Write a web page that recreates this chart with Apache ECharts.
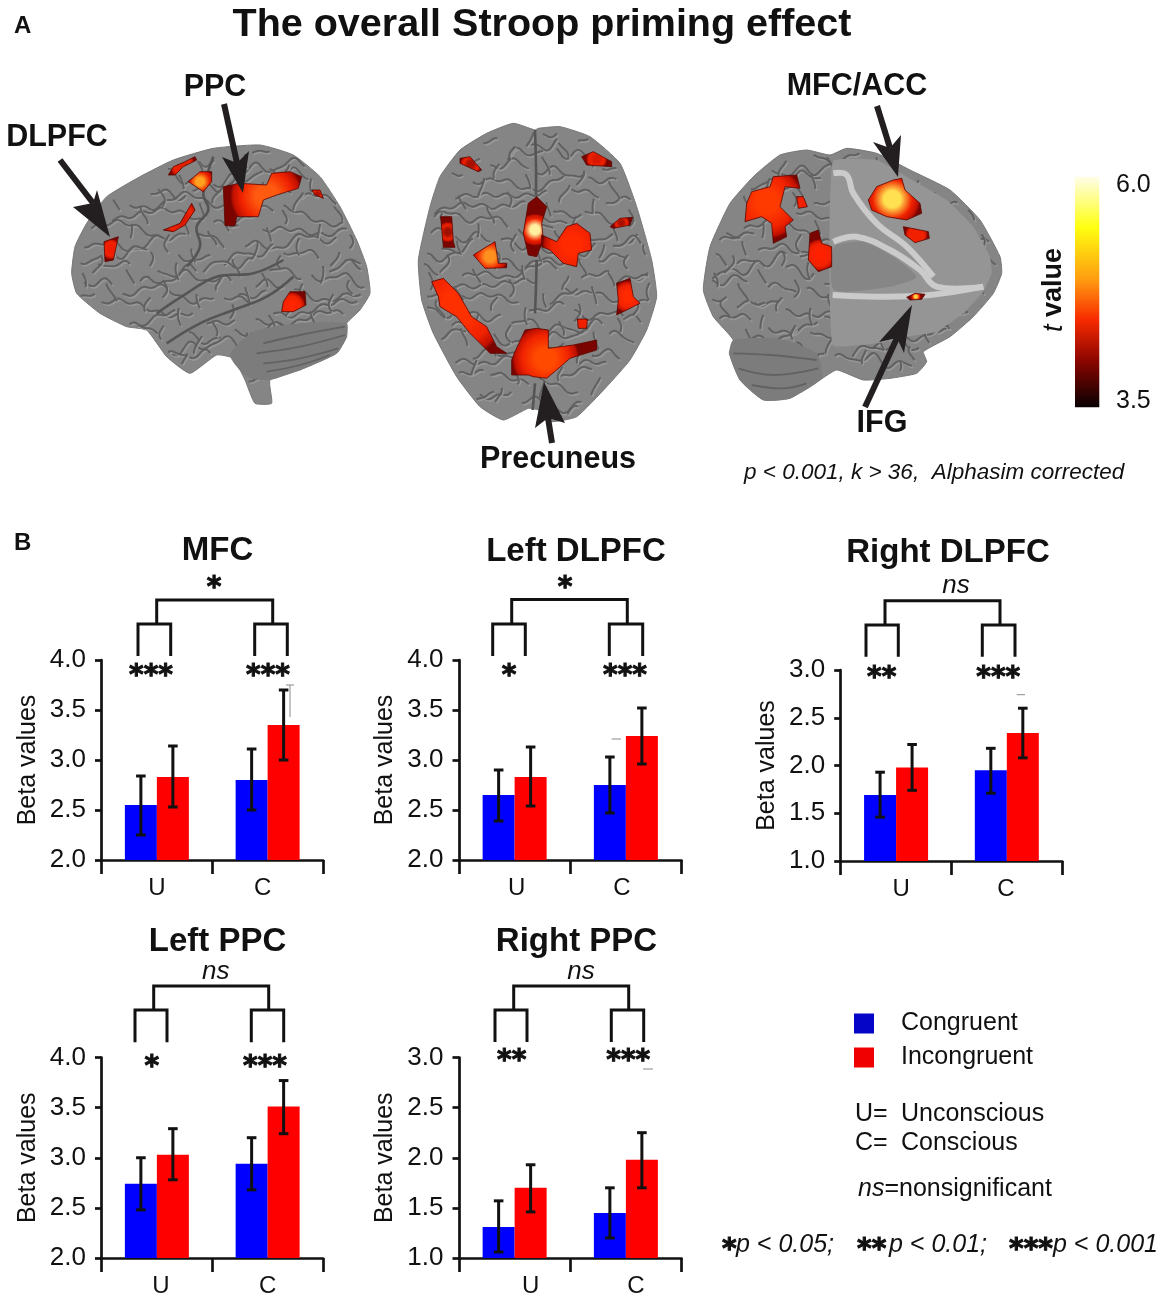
<!DOCTYPE html>
<html>
<head>
<meta charset="utf-8">
<style>
  html, body { margin: 0; padding: 0; background: #fff; }
  #chart { width: 1165px; height: 1300px; }
</style>
<script src="https://cdn.jsdelivr.net/npm/echarts@6/dist/echarts.min.js"></script>
</head>
<body>
<div id="chart"></div>
<script>
// Panel B data
const conditions = ["U", "C"];
const regions = ["MFC", "Left DLPFC", "Right DLPFC", "Left PPC", "Right PPC"];

const mfcCongruent = [2.55, 2.80];
const mfcCongruentLow = [2.25, 2.50];
const mfcCongruentHigh = [2.84, 3.11];
const mfcIncongruent = [2.83, 3.35];
const mfcIncongruentLow = [2.53, 3.00];
const mfcIncongruentHigh = [3.14, 3.70];

const leftDlpfcCongruent = [2.65, 2.75];
const leftDlpfcCongruentLow = [2.39, 2.47];
const leftDlpfcCongruentHigh = [2.90, 3.03];
const leftDlpfcIncongruent = [2.83, 3.24];
const leftDlpfcIncongruentLow = [2.54, 2.96];
const leftDlpfcIncongruentHigh = [3.13, 3.52];

const rightDlpfcCongruent = [1.69, 1.95];
const rightDlpfcCongruentLow = [1.46, 1.71];
const rightDlpfcCongruentHigh = [1.93, 2.18];
const rightDlpfcIncongruent = [1.98, 2.34];
const rightDlpfcIncongruentLow = [1.74, 2.08];
const rightDlpfcIncongruentHigh = [2.22, 2.60];

const leftPpcCongruent = [2.74, 2.94];
const leftPpcCongruentLow = [2.48, 2.68];
const leftPpcCongruentHigh = [3.00, 3.20];
const leftPpcIncongruent = [3.03, 3.51];
const leftPpcIncongruentLow = [2.78, 3.24];
const leftPpcIncongruentHigh = [3.29, 3.77];

const rightPpcCongruent = [1.31, 1.45];
const rightPpcCongruentLow = [1.06, 1.20];
const rightPpcCongruentHigh = [1.57, 1.70];
const rightPpcIncongruent = [1.70, 1.98];
const rightPpcIncongruentLow = [1.46, 1.70];
const rightPpcIncongruentHigh = [1.93, 2.25];

const yMins = [2, 2, 1, 2, 1];
const yMaxs = [4, 4, 3, 4, 3];

const panelValues = [
  [mfcCongruent, mfcCongruentLow, mfcCongruentHigh, mfcIncongruent, mfcIncongruentLow, mfcIncongruentHigh],
  [leftDlpfcCongruent, leftDlpfcCongruentLow, leftDlpfcCongruentHigh, leftDlpfcIncongruent, leftDlpfcIncongruentLow, leftDlpfcIncongruentHigh],
  [rightDlpfcCongruent, rightDlpfcCongruentLow, rightDlpfcCongruentHigh, rightDlpfcIncongruent, rightDlpfcIncongruentLow, rightDlpfcIncongruentHigh],
  [leftPpcCongruent, leftPpcCongruentLow, leftPpcCongruentHigh, leftPpcIncongruent, leftPpcIncongruentLow, leftPpcIncongruentHigh],
  [rightPpcCongruent, rightPpcCongruentLow, rightPpcCongruentHigh, rightPpcIncongruent, rightPpcIncongruentLow, rightPpcIncongruentHigh],
];

// Layout of the five panels, in page pixels
const FONT = '"Liberation Sans", Arial, sans-serif';
const BAR_W = 32;
const layout = [
  { left: 101.5, top: 660, width: 221.5, height: 200, titleX: 217.5, titleY: 548, labelDx: [0, -5] },
  { left: 459, top: 660, width: 222.5, height: 200, titleX: 576, titleY: 549, labelDx: [2, -4] },
  { left: 840.7, top: 670, width: 221.5, height: 191, titleX: 948, titleY: 550, labelDx: [5, -1] },
  { left: 101.5, top: 1057.5, width: 221.5, height: 200.5, titleX: 217.5, titleY: 939, labelDx: [4, 0] },
  { left: 459, top: 1057.5, width: 222.5, height: 200.5, titleX: 576.5, titleY: 939, labelDx: [16, 10] },
];

// Significance brackets: top y, drop y, leg end y, top x0/x1, U legs, C legs
const brackets = [
  [600, 624, 656, 156.7, 272.7, 138, 170.7, 254.7, 287.3],
  [599.5, 624, 656, 511.7, 627.3, 492.7, 525.3, 609.3, 642.7],
  [600.7, 625, 656.7, 885, 1000, 866, 898.3, 982.3, 1015],
  [986, 1010, 1042.3, 153.7, 268.7, 135, 167, 251.3, 283.7],
  [986, 1010, 1042, 513.7, 628.7, 495, 527, 611.3, 643.7],
];
// [text, x, y]
const sigMarks = [
  ["*", 214, 583], ["***", 151, 671], ["***", 268, 671],
  ["*", 565, 583], ["*", 509, 671], ["***", 625, 671],
  ["ns", 956, 586], ["**", 881.7, 673], ["***", 998.3, 673],
  ["ns", 215.7, 971.7], ["*", 151.7, 1062], ["***", 265, 1062],
  ["ns", 581, 971.7], ["**", 511.7, 1056], ["***", 628.3, 1056],
];
// thin grey leftovers next to some error bars in the original figure
const greyMarks = [
  [[286, 685], [294, 685]], [[290, 685], [290, 717]],
  [[611.7, 739], [621, 739]],
  [[1016.7, 694.7], [1025, 694.7]],
  [[643, 1069], [653, 1069]],
];

// ---- panel A illustration outlines (3x crop coordinates, scaled in brainPts) ----
const brain1Origin = [0, 60];
const brain2Origin = [400, 100];
const brain3Origin = [690, 60];

const brain1Outline = [[215,640],[225,560],[260,490],[320,410],[420,350],[520,300],[640,265],[780,255],[880,285],[960,350],[1020,440],[1070,540],[1100,620],[1110,700],[1080,750],[1040,790],[1040,830],[1010,880],[900,930],[810,960],[815,1030],[765,1030],[735,960],[700,895],[650,885],[570,940],[500,890],[440,810],[380,800],[300,760],[230,700]];
const brain1Cerebellum = [[690,885],[760,815],[900,790],[1040,790],[1040,830],[1010,880],[900,930],[810,960],[740,950]];
const brain1CerebellumLines = [
  [[790,850],[900,825],[1035,800]],
  [[770,880],[900,860],[1035,825]],
  [[790,910],[900,895],[1015,865]],
  [[800,935],[900,915],[990,885]],
];
const brain1Sulci = [
  [[640,290],[610,400],[625,450],[590,500],[600,560],[560,620]],
  [[470,760],[560,700],[650,650],[760,640],[850,600]],
  [[500,850],[600,790],[700,750],[800,710],[880,650]],
];
const brain1Blobs = [
  [[[670,380],[720,370],[800,375],[815,340],[870,335],[905,350],[895,385],[830,405],[790,420],[775,470],[710,470],[705,497],[675,497]], 0.55, 0.45, "#ff5a10"],
  [[[565,365],[600,335],[635,335],[635,365],[610,395],[580,375]], 0.5, 0.5, "#ffa020"],
  [[[505,345],[520,320],[555,305],[585,290],[590,300],[550,320],[525,345]], 0.5, 0.5, "#e02000"],
  [[[490,510],[540,490],[575,430],[585,450],[555,495],[520,515]], 0.5, 0.5, "#d81800"],
  [[[312,545],[355,530],[340,600],[315,605]], 0.5, 0.5, "#f01c00"],
  [[[850,725],[870,695],[915,695],[918,735],[880,755],[845,755]], 0.4, 0.7, "#ff2500"],
  [[[935,390],[960,390],[970,415],[945,405]], 0.5, 0.5, "#b01000"],
];

const brain2Outline = [[405,90],[340,70],[260,100],[180,150],[120,230],[90,320],[55,480],[65,600],[100,700],[170,830],[240,920],[310,960],[385,925],[415,930],[450,965],[530,950],[620,860],[690,780],[740,690],[770,590],[755,480],[710,320],[660,190],[570,110],[480,80],[415,85]];
const brain2Sulci = [
  [[405,90],[408,200],[408,285]], [[410,480],[408,560],[405,640]], [[405,850],[398,930]],
];
const brain2Blobs = [
  [[[370,400],[385,310],[410,290],[440,320],[425,370],[430,420],[410,470],[385,465]], 0.5, 0.55, "#fff0a0"],
  [[[425,405],[470,425],[500,380],[530,370],[570,400],[575,450],[535,460],[530,500],[490,490],[450,450],[425,440]], 0.6, 0.5, "#ff2a00"],
  [[[220,465],[260,440],[285,425],[295,490],[320,490],[320,503],[255,505]], 0.5, 0.55, "#ff9020"],
  [[[95,545],[130,535],[175,580],[215,650],[260,680],[290,740],[320,760],[270,760],[210,700],[170,650],[120,620],[115,590]], 0.35, 0.4, "#ff3000"],
  [[[345,755],[375,690],[410,685],[445,690],[445,745],[520,735],[590,720],[590,750],[510,775],[470,810],[440,835],[400,830],[385,825],[335,825],[335,780]], 0.4, 0.6, "#ff4a00"],
  [[[650,550],[690,535],[700,590],[720,610],[690,625],[650,645],[655,600]], 0.5, 0.5, "#ff2a00"],
  [[[545,170],[580,155],[635,185],[635,200],[560,195]], 0.5, 0.5, "#d81800"],
  [[[180,175],[210,170],[245,210],[235,215],[180,190]], 0.5, 0.5, "#a81000"],
  [[[122,350],[155,350],[160,425],[165,442],[130,442]], 0.5, 0.5, "#a01000"],
  [[[630,380],[660,355],[698,352],[690,375],[640,385]], 0.5, 0.5, "#a81000"],
  [[[532,657],[562,657],[560,685],[535,685]], 0.5, 0.5, "#f02000"],
];

const brain3Outline = [[40,690],[60,560],[120,430],[190,350],[270,285],[350,270],[420,285],[470,265],[560,280],[660,330],[780,390],[870,480],[930,590],[935,640],[910,700],[850,770],[780,830],[700,875],[710,905],[680,940],[600,955],[520,960],[440,930],[390,960],[300,1015],[220,1020],[150,960],[118,880],[130,840],[70,770]];
const brain3Cerebellum = [[118,880],[130,840],[260,835],[380,880],[395,955],[300,1015],[220,1020],[150,960]];
const brain3CerebellumLines = [
  [[130,880],[240,885],[380,900]],
  [[145,925],[250,945],[385,925]],
  [[185,975],[280,985],[350,970]],
];
const brain3Slice = [[428,305],[560,300],[650,350],[770,420],[850,500],[900,590],[905,640],[880,695],[820,760],[740,815],[650,830],[560,850],[428,855]];
const brain3Deep = [[432,560],[520,545],[610,590],[680,650],[600,680],[432,690]];
const brain3White = [
  [[430,545],[500,530],[600,570],[690,630],[740,680],[880,680]],
  [[428,705],[560,710],[720,705],[880,680]],
  [[430,340],[470,345],[490,400],[560,490],[650,560],[730,650]],
];
const brain3Blobs = [
  [[[535,420],[560,380],[610,360],[635,355],[645,390],[690,430],[695,460],[650,480],[590,470],[545,450]], 0.45, 0.5, "#ffe050"],
  [[[640,500],[665,505],[715,515],[718,535],[675,548],[645,525]], 0.5, 0.5, "#f02000"],
  [[[170,430],[185,395],[240,380],[250,350],[320,345],[330,385],[285,380],[270,440],[310,480],[285,500],[290,530],[250,550],[245,490],[215,470],[165,485]], 0.4, 0.4, "#ff3a00"],
  [[[320,410],[340,410],[352,440],[325,445]], 0.5, 0.5, "#f02000"],
  [[[360,520],[385,510],[395,550],[425,560],[425,620],[385,635],[355,600]], 0.5, 0.6, "#ff2000"],
  [[[650,712],[675,700],[705,703],[695,718],[660,720]], 0.5, 0.5, "#ffd040"],
];

// [shaft start, tip, barb, notch, barb]
const arrows = [
  [[60,160],[110,237],[73,207],[93,203],[97,190]],
  [[224,104],[243,193],[222,157],[237,163],[249,151]],
  [[877,106],[898,177],[873,142],[890,148],[901,135]],
  [[865,407],[912,305],[879,342],[897,338],[904,353]],
  [[552,443],[544,382],[535,428],[548,418],[565,423]],
];

function brainPts(origin, pts) {
  return pts.map(p => [origin[0] + p[0] / 3, origin[1] + p[1] / 3]);
}

function insidePoly(x, y, poly) {
  let inside = false;
  for (let i = 0, j = poly.length - 1; i < poly.length; j = i++) {
    const [xi, yi] = poly[i], [xj, yj] = poly[j];
    if ((yi > y) !== (yj > y) && x < (xj - xi) * (y - yi) / (yj - yi) + xi) inside = !inside;
  }
  return inside;
}

// cortex folds: only decoration of the brain pictures, uneven wavy strokes inside the outline
function foldElements(origin, outline) {
  const poly = brainPts(origin, outline);
  const xs = poly.map(p => p[0]), ys = poly.map(p => p[1]);
  const x0 = Math.min(...xs), x1 = Math.max(...xs), y0 = Math.min(...ys), y1 = Math.max(...ys);
  const els = [];
  const flush = seg => {
    if (seg.length < 4) return;
    els.push({
      type: "polyline", z: 2, silent: true,
      shape: { points: seg.map(p => [p[0] + 1.4, p[1] + 1.8]), smooth: 0.5 },
      style: { fill: null, stroke: "#989898", lineWidth: 1.6 },
    });
    els.push({
      type: "polyline", z: 2, silent: true,
      shape: { points: seg, smooth: 0.5 },
      style: { fill: null, stroke: "#606060", lineWidth: 1.9 },
    });
  };
  const ok = (x, y) => insidePoly(x, y, poly) && insidePoly(x + 4, y + 3, poly) && insidePoly(x - 4, y - 3, poly);
  // mostly horizontal strokes
  let row = 0;
  for (let yy = y0 + 6; yy < y1; yy += 13, row++) {
    let seg = [];
    const freq = 0.13 + 0.07 * Math.sin(row * 0.9);
    for (let xx = x0 + 2; xx < x1; xx += 3.5) {
      const y = yy + 4.5 * Math.sin(xx * freq + row * 1.3) + 5 * Math.sin(xx * 0.047 + row * 2.1) + 2 * Math.sin(xx * 0.31 + row);
      if (Math.sin(xx * 0.11 + row * 1.9) + 0.6 * Math.sin(xx * 0.037 + row) < 0.6 && ok(xx, y)) {
        seg.push([xx, y]);
      } else {
        flush(seg);
        seg = [];
      }
    }
    flush(seg);
  }
  // shorter, mostly vertical strokes crossing them
  let col = 0;
  for (let xx = x0 + 8; xx < x1; xx += 17, col++) {
    let seg = [];
    const freq = 0.16 + 0.06 * Math.sin(col * 1.7);
    for (let yy = y0 + 2; yy < y1; yy += 3.5) {
      const x = xx + 4 * Math.sin(yy * freq + col * 0.8) + 4 * Math.sin(yy * 0.053 + col * 1.4);
      if (Math.sin(yy * 0.14 + col * 2.3) > 0.25 && ok(x, yy)) {
        seg.push([x, yy]);
      } else {
        flush(seg);
        seg = [];
      }
    }
    flush(seg);
  }
  return els;
}

function brainElements(origin, outline, sulci) {
  const els = [{
    type: "polygon", z: 1,
    shape: { points: brainPts(origin, outline), smooth: 0.15 },
    style: { fill: "#858585", stroke: "#777", lineWidth: 1 },
  }];
  els.push(...foldElements(origin, outline));
  sulci.forEach(l => {
    els.push({
      type: "polyline", z: 3,
      shape: { points: brainPts(origin, l), smooth: 0.4 },
      style: { fill: null, stroke: "#555", lineWidth: 2.6 },
    });
  });
  return els;
}

function cerebellumElements(origin, poly, lines) {
  const els = [{
    type: "polygon", z: 3,
    shape: { points: brainPts(origin, poly), smooth: 0.2 },
    style: { fill: "#7c7c7c" },
  }];
  lines.forEach(l => els.push({
    type: "polyline", z: 3,
    shape: { points: brainPts(origin, l), smooth: 0.4 },
    style: { fill: null, stroke: "#626262", lineWidth: 1.8 },
  }));
  return els;
}

function blobElements(origin, blobs) {
  return blobs.map(b => ({
    type: "polygon", z: 5,
    shape: { points: brainPts(origin, b[0]) },
    style: {
      fill: {
        type: "radial", x: b[1], y: b[2], r: 0.66,
        colorStops: [
          { offset: 0, color: b[3] },
          { offset: 0.3, color: b[3] },
          { offset: 0.7, color: "#f02200" },
          { offset: 0.92, color: "#c01000" },
          { offset: 1, color: "#7a0500" },
        ],
      },
      stroke: "#5a0500", lineWidth: 0.8,
    },
  }));
}

function textEl(text, x, y, font, extra) {
  return {
    type: "text", z: 10, x: x, y: y + 2,
    style: Object.assign({ text: text, font: font, fill: "#111", align: "left", verticalAlign: "middle" }, extra || {}),
  };
}

function line(points, color, width) {
  return {
    type: "polyline", z: 8,
    shape: { points: points },
    style: { fill: null, stroke: color, lineWidth: width, lineCap: "butt", lineJoin: "miter" },
  };
}

const graphics = [];

// brains
graphics.push(...brainElements(brain1Origin, brain1Outline, brain1Sulci));
graphics.push(...brainElements(brain2Origin, brain2Outline, brain2Sulci));
graphics.push(...brainElements(brain3Origin, brain3Outline, []));
graphics.push(...cerebellumElements(brain1Origin, brain1Cerebellum, brain1CerebellumLines));
graphics.push(...cerebellumElements(brain3Origin, brain3Cerebellum, brain3CerebellumLines));
graphics.push({
  type: "polygon", z: 3,
  shape: { points: brainPts(brain3Origin, brain3Slice), smooth: 0.12 },
  style: { fill: "#959595" },
});
graphics.push({
  type: "polygon", z: 3,
  shape: { points: brainPts(brain3Origin, brain3Deep), smooth: 0.2 },
  style: { fill: "#868686" },
});
brain3White.forEach(l => graphics.push({
  type: "polyline", z: 4,
  shape: { points: brainPts(brain3Origin, l), smooth: 0.4 },
  style: { fill: null, stroke: "#cbcbcb", lineWidth: 6 },
}));
graphics.push(...blobElements(brain1Origin, brain1Blobs));
graphics.push(...blobElements(brain2Origin, brain2Blobs));
graphics.push(...blobElements(brain3Origin, brain3Blobs));

// arrows
arrows.forEach(a => {
  graphics.push(line([a[0], a[3]], "#231f20", 6));
  graphics.push({
    type: "polygon", z: 8,
    shape: { points: [a[1], a[2], a[3], a[4]] },
    style: { fill: "#231f20" },
  });
});

// panel A text
graphics.push(textEl("The overall Stroop priming effect", 542, 23, "bold 39.5px " + FONT, { align: "center" }));
graphics.push(textEl("A", 14, 24, "bold 24px " + FONT));
graphics.push(textEl("B", 14, 541, "bold 24px " + FONT));
graphics.push(textEl("DLPFC", 57, 136, "bold 30.5px " + FONT, { align: "center" }));
graphics.push(textEl("PPC", 215, 86, "bold 30.5px " + FONT, { align: "center" }));
graphics.push(textEl("MFC/ACC", 857, 85, "bold 30.5px " + FONT, { align: "center" }));
graphics.push(textEl("IFG", 882, 422, "bold 30.5px " + FONT, { align: "center" }));
graphics.push(textEl("Precuneus", 558, 458, "bold 30.5px " + FONT, { align: "center" }));
graphics.push(textEl("p < 0.001, k > 36,  Alphasim corrected", 744, 471, "italic 22.5px " + FONT));

// colour bar
graphics.push({
  type: "rect", z: 6,
  shape: { x: 1075, y: 176.7, width: 24.3, height: 230.6 },
  style: {
    fill: {
      type: "linear", x: 0, y: 0, x2: 0, y2: 1,
      colorStops: [
        { offset: 0, color: "#fffde8" },
        { offset: 0.22, color: "#ffff10" },
        { offset: 0.45, color: "#ff9a10" },
        { offset: 0.62, color: "#f82a00" },
        { offset: 0.8, color: "#8a0500" },
        { offset: 1, color: "#080002" },
      ],
    },
  },
});
graphics.push(textEl("6.0", 1116, 183, "25px " + FONT));
graphics.push(textEl("3.5", 1116, 399, "25px " + FONT));
graphics.push({
  type: "text", z: 10, x: 1054, y: 290, rotation: Math.PI / 2,
  style: {
    text: "{i|t} value", font: "bold 27px " + FONT, fill: "#111", align: "center", verticalAlign: "middle",
    rich: { i: { font: "italic 27px " + FONT, fill: "#111" } },
  },
});

// brackets, stars, grey leftovers
brackets.forEach(b => {
  const [yTop, yMid, yEnd, x0, x1, u0, u1, c0, c1] = b;
  graphics.push(line([[x0, yMid], [x0, yTop], [x1, yTop], [x1, yMid]], "#111", 3));
  graphics.push(line([[u0, yEnd], [u0, yMid], [u1, yMid], [u1, yEnd]], "#111", 3));
  graphics.push(line([[c0, yEnd], [c0, yMid], [c1, yMid], [c1, yEnd]], "#111", 3));
});
const STAR_FONT = "bold 28px 'DejaVu Sans'";
const starStyle = { stroke: "#111", lineWidth: 1 };
sigMarks.forEach(m => {
  if (m[0] === "ns") {
    graphics.push(textEl("ns", m[1], m[2] - 2, "italic 26px " + FONT, { align: "center" }));
  } else {
    graphics.push(textEl(m[0], m[1], m[2] + 4, STAR_FONT, Object.assign({ align: "center" }, starStyle)));
  }
});
greyMarks.forEach(g => graphics.push(line(g, "#8a8a8a", 1)));

// key text on the right
const KEY_FONT = "25px " + FONT;
graphics.push(textEl("U=", 855, 1112, KEY_FONT));
graphics.push(textEl("Unconscious", 901, 1112, KEY_FONT));
graphics.push(textEl("C=", 855, 1141, KEY_FONT));
graphics.push(textEl("Conscious", 901, 1141, KEY_FONT));
graphics.push({
  type: "text", z: 10, x: 858, y: 1189,
  style: {
    text: "{i|ns}=nonsignificant", font: "25px " + FONT, fill: "#111", verticalAlign: "middle",
    rich: { i: { font: "italic 25px " + FONT, fill: "#111" } },
  },
});
[["*", "p < 0.05;", 722, 736], ["**", "p < 0.01;", 857, 889], ["***", "p < 0.001", 1009, 1053]].forEach(k => {
  graphics.push(textEl(k[0], k[2], 1249, STAR_FONT, starStyle));
  graphics.push(textEl(k[1], k[3], 1243, "italic 25px " + FONT));
});

// error bars sit on the centre of each bar, so they are shifted half a bar from the category
function errorBarSeries(name, lows, highs, gridIdx, dir) {
  return {
    name: name + " error",
    type: "custom",
    xAxisIndex: gridIdx,
    yAxisIndex: gridIdx,
    z: 6,
    silent: true,
    encode: { x: 0, y: [1, 2] },
    data: lows.map((lo, i) => [i, lo, highs[i]]),
    renderItem(params, api) {
      const top = api.coord([api.value(0), api.value(2)]);
      const bot = api.coord([api.value(0), api.value(1)]);
      const x = top[0] + dir * BAR_W / 2;
      const style = { stroke: "#111", lineWidth: 3, fill: null };
      const capW = 4.8;
      return {
        type: "group",
        children: [
          { type: "line", shape: { x1: x, y1: top[1], x2: x, y2: bot[1] }, style },
          { type: "line", shape: { x1: x - capW, y1: top[1], x2: x + capW, y2: top[1] }, style },
          { type: "line", shape: { x1: x - capW, y1: bot[1], x2: x + capW, y2: bot[1] }, style },
        ],
      };
    },
  };
}

const axisLine = { show: true, onZero: false, lineStyle: { color: "#111", width: 2.7 } };

const grids = [], xAxes = [], yAxes = [], titles = [], series = [];
regions.forEach((region, i) => {
  const l = layout[i];
  const [cong, congLow, congHigh, incong, incongLow, incongHigh] = panelValues[i];
  grids.push({ left: l.left, top: l.top, width: l.width, height: l.height });
  xAxes.push({
    type: "category", gridIndex: i,
    data: conditions.map((c, k) => {
      const dx = l.labelDx[k];
      return { value: c, textStyle: { padding: dx > 0 ? [0, 0, 0, 2 * dx] : [0, -2 * dx, 0, 0] } };
    }),
    axisLine,
    axisTick: { show: true, length: 14, alignWithLabel: false, lineStyle: { color: "#111", width: 2.7 } },
    axisLabel: { fontSize: 24, color: "#111", margin: 16, fontFamily: FONT, interval: 0 },
    splitLine: { show: false },
  });
  yAxes.push({
    type: "value", gridIndex: i, min: yMins[i], max: yMaxs[i], interval: 0.5,
    name: "Beta values", nameLocation: "middle", nameGap: 61,
    nameTextStyle: { fontSize: 25, color: "#111", fontFamily: FONT },
    axisLine,
    axisTick: { show: true, length: 6.5, lineStyle: { color: "#111", width: 2.7 } },
    axisLabel: {
      fontSize: 26, color: "#111", margin: 15.5, fontFamily: FONT,
      padding: [0, 0, 6, 0],
      formatter: v => v.toFixed(1),
    },
    splitLine: { show: false },
  });
  titles.push({
    text: region, left: l.titleX, top: l.titleY - 14, textAlign: "center", padding: 0,
    textStyle: { fontSize: 33, fontWeight: "bold", color: "#111", fontFamily: FONT },
  });
  const base = { type: "bar", xAxisIndex: i, yAxisIndex: i, barWidth: BAR_W, barGap: 0, silent: true };
  series.push(Object.assign({ name: "Congruent", data: cong, itemStyle: { color: "#0000ff" } }, base));
  series.push(Object.assign({ name: "Incongruent", data: incong, itemStyle: { color: "#ff0000" } }, base));
  series.push(errorBarSeries("Congruent", congLow, congHigh, i, -1));
  series.push(errorBarSeries("Incongruent", incongLow, incongHigh, i, 1));
});

const chart = echarts.init(document.getElementById("chart"), null, { renderer: "canvas" });
chart.setOption({
  animation: false,
  backgroundColor: "#fff",
  textStyle: { fontFamily: FONT },
  title: titles,
  tooltip: { show: false },
  legend: {
    orient: "vertical", left: 854, top: 1011, padding: 0,
    itemWidth: 20, itemHeight: 20, itemGap: 9, selectedMode: false,
    icon: "rect",
    textStyle: { fontSize: 25, color: "#111", fontFamily: FONT, padding: [7, 0, 0, 22] },
    data: [
      { name: "Congruent", itemStyle: { color: "#0505c8" } },
      { name: "Incongruent", itemStyle: { color: "#f00000" } },
    ],
  },
  grid: grids,
  xAxis: xAxes,
  yAxis: yAxes,
  series,
  graphic: { elements: graphics },
});
window.addEventListener("resize", () => chart.resize());
</script>
</body>
</html>
